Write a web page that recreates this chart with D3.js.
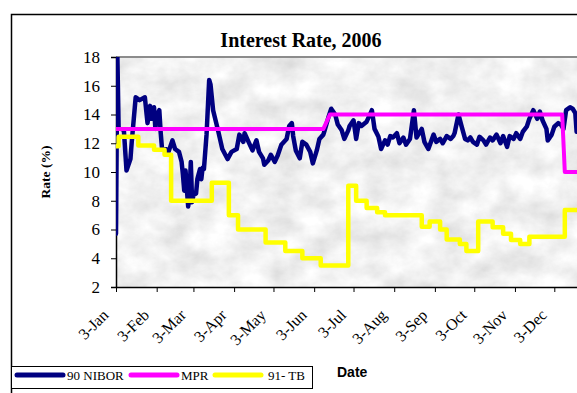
<!DOCTYPE html>
<html>
<head>
<meta charset="utf-8">
<script src="https://cdn.jsdelivr.net/npm/d3@7"></script>
<style>
  html, body { margin: 0; padding: 0; background: #ffffff; }
  svg { display: block; }
</style>
</head>
<body>
<div id="chart"></div>
<script>
// ---------------- DATA ----------------
const chartTitle = "Interest Rate, 2006";
const yTicks = [2, 4, 6, 8, 10, 12, 14, 16, 18];
const xTickDates = ["2006-01-03","2006-02-03","2006-03-03","2006-04-03","2006-05-03","2006-06-03",
                    "2006-07-03","2006-08-03","2006-09-03","2006-10-03","2006-11-03","2006-12-03"];
const seriesNames = ["90 NIBOR", "MPR", "91- TB"];
const seriesColors = ["#000080", "#ff00ff", "#ffff00"];

const niborDates = [
 "2006-01-03","2006-01-04","2006-01-05","2006-01-09","2006-01-11","2006-01-14","2006-01-15","2006-01-18",
 "2006-01-21","2006-01-25","2006-01-27","2006-01-29","2006-01-30","2006-02-01","2006-02-02","2006-02-03",
 "2006-02-05","2006-02-06","2006-02-07","2006-02-10","2006-02-12","2006-02-15","2006-02-17","2006-02-20",
 "2006-02-22","2006-02-23","2006-02-24","2006-02-25","2006-02-26","2006-02-27","2006-02-28","2006-03-01",
 "2006-03-02","2006-03-03","2006-03-05","2006-03-06","2006-03-08","2006-03-09","2006-03-10","2006-03-11",
 "2006-03-13","2006-03-15","2006-03-16","2006-03-18","2006-03-22","2006-03-25","2006-03-29","2006-04-01",
 "2006-04-05","2006-04-07","2006-04-10","2006-04-11","2006-04-14","2006-04-17","2006-04-20","2006-04-22",
 "2006-04-25","2006-04-26","2006-04-29","2006-05-01","2006-05-04","2006-05-06","2006-05-09","2006-05-13",
 "2006-05-15","2006-05-17","2006-05-18","2006-05-20","2006-05-23","2006-05-25","2006-05-28","2006-05-31",
 "2006-06-02","2006-06-05","2006-06-07","2006-06-10","2006-06-11","2006-06-14","2006-06-16","2006-06-19",
 "2006-06-21","2006-06-24","2006-06-26","2006-06-29","2006-06-30","2006-07-03","2006-07-05","2006-07-07",
 "2006-07-09","2006-07-13","2006-07-17","2006-07-19","2006-07-22","2006-07-24","2006-07-27","2006-07-29",
 "2006-07-31","2006-08-02","2006-08-05","2006-08-07","2006-08-10","2006-08-12","2006-08-15","2006-08-18",
 "2006-08-20","2006-08-24","2006-08-26","2006-08-29","2006-09-02","2006-09-04","2006-09-07","2006-09-09",
 "2006-09-12","2006-09-15","2006-09-17","2006-09-18","2006-09-21","2006-09-23","2006-09-26","2006-09-28",
 "2006-09-30","2006-10-02","2006-10-05","2006-10-07","2006-10-10","2006-10-12","2006-10-15","2006-10-17",
 "2006-10-20","2006-10-23","2006-10-25","2006-10-28","2006-10-30","2006-11-02","2006-11-04","2006-11-07",
 "2006-11-09","2006-11-12","2006-11-14","2006-11-17","2006-11-20","2006-11-22","2006-11-24","2006-11-27",
 "2006-11-28","2006-12-01","2006-12-03","2006-12-06","2006-12-08","2006-12-10","2006-12-12","2006-12-15",
 "2006-12-17","2006-12-19","2006-12-20","2006-12-22"
];
const niborValues = [
 5.7, 18.3, 13.1, 12.9, 10.1, 10.9, 12.1, 15.2,
 15.0, 15.2, 13.4, 14.6, 13.7, 14.5, 13.0, 13.9,
 14.3, 12.8, 11.7, 11.6, 11.4, 12.2, 11.6, 11.4,
 10.7, 9.8, 8.7, 10.1, 8.8, 7.6, 8.4, 10.7,
 7.9, 8.4, 8.5, 9.5, 10.2, 9.5, 10.3, 10.2,
 12.6, 16.4, 16.1, 14.3, 12.8, 11.6, 10.9, 11.4,
 11.6, 12.6, 12.1, 12.7, 12.1, 11.5, 12.2, 11.4,
 10.95, 10.5, 10.8, 11.2, 10.7, 11.1, 11.9, 12.3,
 13.2, 13.4, 12.5, 11.5, 10.95, 12.1, 11.9, 11.4,
 10.6, 11.5, 12.3, 12.6, 12.9, 13.85, 14.4, 14.0,
 13.3, 12.9, 12.3, 12.9, 13.2, 13.6, 12.3, 13.4,
 13.2, 13.5, 14.3, 13.0, 12.45, 11.6, 12.2, 11.9,
 12.5, 12.4, 12.7, 12.0, 12.4, 11.9, 12.3, 14.3,
 12.4, 13.0, 12.1, 11.6, 12.6, 12.1, 12.3, 12.0,
 12.5, 12.3, 12.5, 12.7, 14.0, 13.3, 12.3, 12.2,
 12.4, 12.1, 11.9, 12.45, 12.2, 11.9, 12.4, 12.2,
 12.6, 12.0, 12.5, 11.75, 12.5, 12.3, 12.7, 12.3,
 12.8, 13.15, 13.7, 14.3, 13.7, 14.2, 13.6, 13.0,
 12.2, 12.6, 13.15, 13.4, 13.3, 13.0, 14.3, 14.5,
 14.4, 14.1, 12.8, 12.9
];

const mprDates  = ["2006-01-03","2006-06-10","2006-06-15","2006-12-09","2006-12-11","2006-12-31"];
const mprValues = [13, 13, 14, 14, 10, 10];

const tbDates = [
 "2006-01-03","2006-01-05","2006-01-20","2006-02-01","2006-02-09","2006-02-14","2006-03-17","2006-03-30",
 "2006-04-06","2006-04-27","2006-05-12","2006-05-25","2006-06-08","2006-06-29","2006-07-05","2006-07-13",
 "2006-07-21","2006-07-27","2006-08-24","2006-08-30","2006-09-07","2006-09-12","2006-09-22","2006-09-27",
 "2006-10-06","2006-10-17","2006-10-25","2006-10-31","2006-11-07","2006-11-14","2006-12-11","2006-12-31"
];
const tbValues = [
 11.8, 12.45, 11.85, 11.55, 11.2, 8.0, 9.25, 7.0,
 6.0, 5.1, 4.5, 4.0, 3.5, 9.05, 8.0, 7.5,
 7.2, 7.0, 6.2, 6.55, 6.0, 5.3, 5.0, 4.5,
 6.55, 6.15, 5.7, 5.27, 5.0, 5.5, 7.35, 7.35
];

// ---------------- CHART ----------------
const W = 577, H = 393;
const parse = d3.timeParse("%Y-%m-%d");
const plot = { left: 116, top: 57, bottom: 287 };
const dayPx = 1.3123;
const xStart = parse("2006-01-03"), xEnd = parse("2006-12-31");
const plotRight = plot.left + d3.timeDay.count(xStart, xEnd) * dayPx;

const x = d3.scaleTime().domain([xStart, xEnd]).range([plot.left, plotRight]);
const y = d3.scaleLinear().domain([2, 18]).range([plot.bottom, plot.top]);

const svg = d3.select("#chart").append("svg").attr("width", W).attr("height", H);
const defs = svg.append("defs");

// marble-like texture for the plot background
const filt = defs.append("filter").attr("id", "marble")
  .attr("filterUnits", "userSpaceOnUse")
  .attr("x", plot.left).attr("y", plot.top)
  .attr("width", plotRight - plot.left).attr("height", plot.bottom - plot.top);
filt.append("feTurbulence").attr("type", "fractalNoise")
  .attr("baseFrequency", "0.03 0.04").attr("numOctaves", 5).attr("seed", 11).attr("result", "n");
filt.append("feColorMatrix").attr("type", "matrix")
  .attr("values", "0.42 0 0 0 0.67  0.42 0 0 0 0.67  0.42 0 0 0 0.67  0 0 0 0 1");

defs.append("clipPath").attr("id", "plotClip").append("rect")
  .attr("x", plot.left).attr("y", plot.top)
  .attr("width", plotRight - plot.left).attr("height", plot.bottom - plot.top);

// outer chart border
svg.append("rect").attr("x", 11.5).attr("y", 14.5).attr("width", 620).attr("height", 420)
  .attr("fill", "#fff").attr("stroke", "#000").attr("stroke-width", 1.5);

// plot background
svg.append("rect").attr("x", plot.left).attr("y", plot.top)
  .attr("width", plotRight - plot.left).attr("height", plot.bottom - plot.top)
  .attr("fill", "#e6e6e6").attr("filter", "url(#marble)");

// top grey border of plot
svg.append("line").attr("x1", plot.left).attr("x2", plotRight + 5)
  .attr("y1", plot.top).attr("y2", plot.top)
  .attr("stroke", "#8c8c8c").attr("stroke-width", 2);

// title
svg.append("text").attr("x", 301).attr("y", 47).attr("text-anchor", "middle")
  .attr("font-family", "'Liberation Serif', 'Times New Roman', serif")
  .attr("font-weight", "bold").attr("font-size", 20).text(chartTitle);

// y axis
const yAxis = svg.append("g").attr("transform", `translate(${plot.left},0)`)
  .call(d3.axisLeft(y).tickValues(yTicks).tickSize(5).tickPadding(11).tickFormat(d3.format("d")));
yAxis.selectAll("text").attr("font-family", "'Liberation Serif', 'Times New Roman', serif")
  .attr("font-size", 17).attr("fill", "#000");
yAxis.select(".domain").attr("stroke-width", 1.5);

svg.append("text")
  .attr("transform", `translate(50,172) rotate(-90)`)
  .attr("text-anchor", "middle")
  .attr("font-family", "'Liberation Serif', 'Times New Roman', serif")
  .attr("font-weight", "bold").attr("font-size", 13.5).text("Rate (%)");

// x axis
const fmt = d3.timeFormat("%-d-%b");
const xAxis = svg.append("g").attr("transform", `translate(0,${plot.bottom})`)
  .call(d3.axisBottom(x).tickValues(xTickDates.map(parse)).tickSize(5).tickFormat(fmt).tickSizeOuter(0));
xAxis.select(".domain").attr("stroke-width", 1.5);
xAxis.selectAll("text")
  .attr("font-family", "'Liberation Serif', 'Times New Roman', serif")
  .attr("font-size", 16).attr("fill", "#000")
  .attr("text-anchor", "end")
  .attr("dy", null)
  .attr("y", 0)
  .attr("transform", "translate(-7,29) rotate(-45)");

svg.append("text").attr("x", 337).attr("y", 377)
  .attr("font-family", "'Liberation Sans', Arial, sans-serif")
  .attr("font-weight", "bold").attr("font-size", 14).text("Date");

// series
const lines = svg.append("g").attr("clip-path", "url(#plotClip)");
const lineGen = d3.line().x(d => x(d[0])).y(d => y(d[1]));
const niborData = niborDates.map((d, i) => [parse(d), niborValues[i]]);
const mprData = mprDates.map((d, i) => [parse(d), mprValues[i]]);
const tbData = tbDates.map((d, i) => [parse(d), tbValues[i]]);

lines.append("path").datum(niborData).attr("d", lineGen)
  .attr("fill", "none").attr("stroke", seriesColors[0]).attr("stroke-width", 4.5)
  .attr("stroke-linejoin", "round").attr("stroke-linecap", "round");
lines.append("path").datum(mprData).attr("d", lineGen)
  .attr("fill", "none").attr("stroke", seriesColors[1]).attr("stroke-width", 4)
  .attr("stroke-linejoin", "round");
lines.append("path").datum(tbData).attr("d", d3.line().curve(d3.curveStepAfter).x(d => x(d[0])).y(d => y(d[1])))
  .attr("fill", "none").attr("stroke", seriesColors[2]).attr("stroke-width", 4.5)
  .attr("stroke-linejoin", "round");

// legend
const leg = svg.append("g");
leg.append("rect").attr("x", 11.5).attr("y", 366.5).attr("width", 301).attr("height", 22)
  .attr("fill", "#fff").attr("stroke", "#000").attr("stroke-width", 1);
const legX = [15, 129, 213];
seriesNames.forEach((name, i) => {
  leg.append("line").attr("x1", legX[i] + 2).attr("x2", legX[i] + 48)
    .attr("y1", 375).attr("y2", 375)
    .attr("stroke", seriesColors[i]).attr("stroke-width", 5).attr("stroke-linecap", "round");
  leg.append("text").attr("x", legX[i] + (i === 2 ? 55 : 52)).attr("y", 380)
    .attr("font-family", "'Liberation Serif', 'Times New Roman', serif")
    .attr("font-size", 13).text(name);
});
</script>
</body>
</html>
